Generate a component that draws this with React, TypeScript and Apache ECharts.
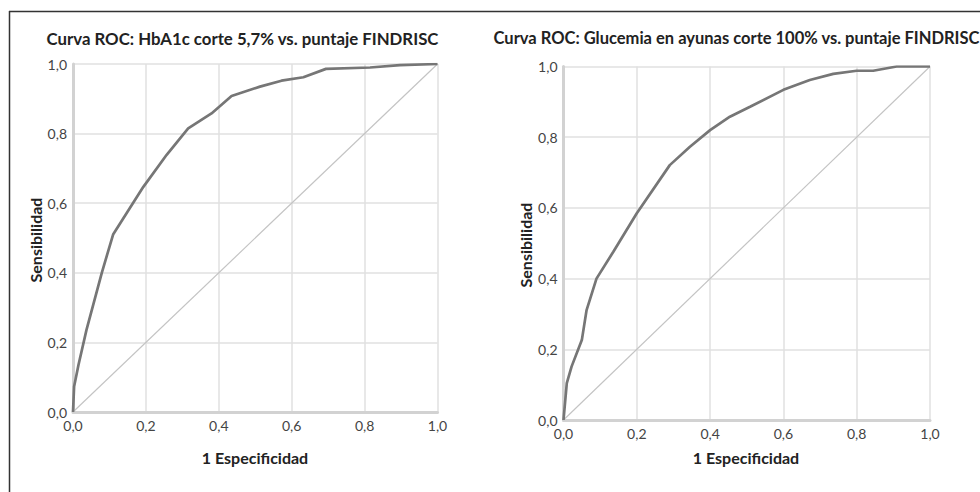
import React, { useEffect, useRef } from "react";
import * as echarts from "echarts";

const tickLabels = ["0,0", "0,2", "0,4", "0,6", "0,8", "1,0"];

const leftFpr = [0, 0.003, 0.015, 0.037, 0.079, 0.11, 0.193, 0.257, 0.316, 0.38, 0.435, 0.513, 0.572, 0.632, 0.694, 0.815, 0.897, 1.0];
const leftTpr = [0, 0.073, 0.135, 0.236, 0.4, 0.51, 0.647, 0.739, 0.815, 0.858, 0.908, 0.935, 0.952, 0.962, 0.986, 0.99, 0.997, 1.0];

const rightFpr = [0, 0.009, 0.022, 0.05, 0.063, 0.09, 0.136, 0.2, 0.29, 0.345, 0.4, 0.454, 0.509, 0.6, 0.672, 0.736, 0.8, 0.845, 0.909, 1.0];
const rightTpr = [0, 0.104, 0.151, 0.226, 0.311, 0.4, 0.476, 0.585, 0.721, 0.773, 0.82, 0.858, 0.886, 0.934, 0.962, 0.979, 0.988, 0.988, 1.0, 1.0];

const diagonal = [[0, 0], [1, 1]];

const leftTitle = "Curva ROC: HbA1c corte 5,7% vs. puntaje FINDRISC";
const rightTitle = "Curva ROC: Glucemia en ayunas corte 100% vs. puntaje FINDRISC";
const xName = "1 Especificidad";
const yName = "Sensibilidad";

const FONT = "Lato, 'Open Sans', sans-serif";

const fmt = (v: number) => tickLabels[Math.round(v / 0.2)] ?? "";

function axis(gridIndex: number) {
  return {
    type: "value",
    gridIndex,
    min: 0,
    max: 1,
    interval: 0.2,
    axisLine: { show: true, lineStyle: { color: "#d2d2d2", width: 3 } },
    axisTick: { show: false },
    axisLabel: {
      formatter: fmt,
      color: "#444",
      fontFamily: FONT,
      fontSize: 14,
      margin: 6,
    },
    splitLine: { show: true, lineStyle: { color: "#e0e0e0", width: 1.5 } },
  };
}

export default function App() {
  const ref = useRef<HTMLDivElement>(null);
  useEffect(() => {
    if (!ref.current) return;
    const chart = echarts.init(ref.current, undefined, { renderer: "svg" });
    const zip = (a: number[], b: number[]) => a.map((x, i) => [x, b[i]]);
    chart.setOption({
      animation: false,
      backgroundColor: "#fff",
      grid: [
        { left: 73, top: 64, width: 364.5, height: 348 },
        { left: 563.5, top: 66.5, width: 366.5, height: 353.5 },
      ],
      xAxis: [axis(0), axis(1)],
      yAxis: [axis(0), axis(1)],
      series: [
        {
          type: "line",
          xAxisIndex: 0,
          yAxisIndex: 0,
          data: diagonal,
          symbol: "none",
          lineStyle: { color: "#c4c4c4", width: 1.2 },
        },
        {
          type: "line",
          xAxisIndex: 0,
          yAxisIndex: 0,
          data: zip(leftFpr, leftTpr),
          symbol: "none",
          lineStyle: { color: "#767676", width: 2.7 },
        },
        {
          type: "line",
          xAxisIndex: 1,
          yAxisIndex: 1,
          data: diagonal,
          symbol: "none",
          lineStyle: { color: "#c4c4c4", width: 1.2 },
        },
        {
          type: "line",
          xAxisIndex: 1,
          yAxisIndex: 1,
          data: zip(rightFpr, rightTpr),
          symbol: "none",
          lineStyle: { color: "#767676", width: 2.7 },
        },
      ],
      graphic: [
        { type: "line", shape: { x1: 9.5, y1: 11, x2: 9.5, y2: 492 }, style: { stroke: "#333", lineWidth: 1.5 } },
        { type: "line", shape: { x1: 9, y1: 11.5, x2: 980, y2: 11.5 }, style: { stroke: "#333", lineWidth: 1.5 } },
        {
          type: "text", x: 242.5, y: 38,
          style: { text: leftTitle, font: `bold 16.8px ${FONT}`, fill: "#222", align: "center", verticalAlign: "middle" },
        },
        {
          type: "text", x: 736.5, y: 38,
          style: { text: rightTitle, font: `bold 16.5px ${FONT}`, fill: "#222", align: "center", verticalAlign: "middle" },
        },
        {
          type: "text", x: 255, y: 457,
          style: { text: xName, font: `bold 16px ${FONT}`, fill: "#222", align: "center", verticalAlign: "middle" },
        },
        {
          type: "text", x: 746, y: 457,
          style: { text: xName, font: `bold 16px ${FONT}`, fill: "#222", align: "center", verticalAlign: "middle" },
        },
        {
          type: "text", x: 35, y: 240, rotation: Math.PI / 2,
          style: { text: yName, font: `bold 16px ${FONT}`, fill: "#222", align: "center", verticalAlign: "middle" },
        },
        {
          type: "text", x: 525, y: 245, rotation: Math.PI / 2,
          style: { text: yName, font: `bold 16px ${FONT}`, fill: "#222", align: "center", verticalAlign: "middle" },
        },
      ],
    });
    return () => chart.dispose();
  }, []);
  return (
    <div
      ref={ref}
      style={{ position: "fixed", left: 0, top: 0, width: 980, height: 492 }}
    />
  );
}
